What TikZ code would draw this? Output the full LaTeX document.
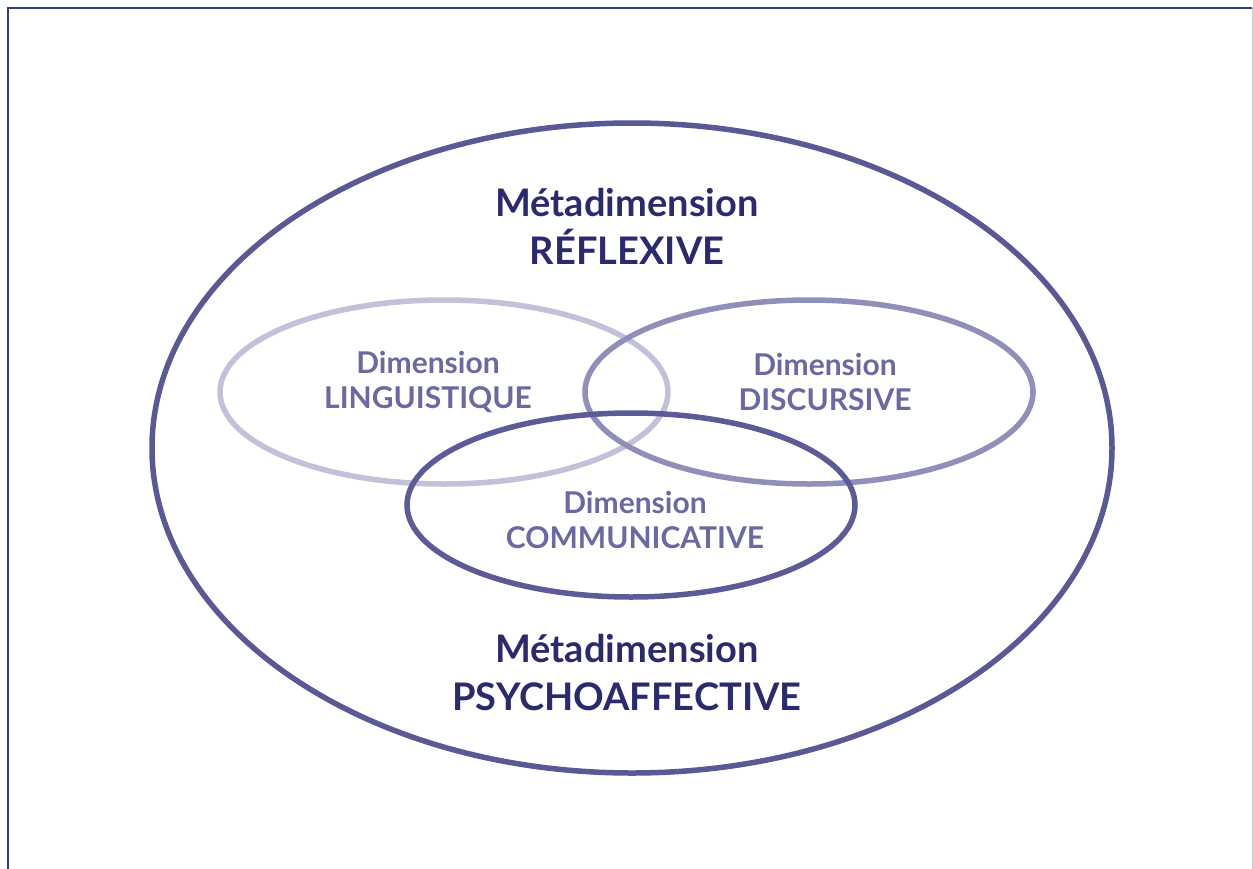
\documentclass[tikz,border=0pt]{standalone}
\usepackage{fontspec}
\setmainfont{Lato}
\definecolor{outer}{HTML}{5A5996}
\definecolor{ling}{HTML}{C2C1DA}
\definecolor{disc}{HTML}{908FBA}
\definecolor{comm}{HTML}{5C5B98}
\definecolor{meta}{HTML}{2B2A6E}
\definecolor{dimtext}{HTML}{6A69A2}
\definecolor{frame}{HTML}{34407E}
\begin{document}
\begin{tikzpicture}[x=1pt,y=-1pt,
  ring/.style={line width=5.5pt},
  metatext/.style={font=\bfseries\fontsize{38}{48}\selectfont, text=meta, align=center, inner sep=0pt},
  dimlabel/.style={font=\bfseries\fontsize{30}{35}\selectfont, text=dimtext, align=center, inner sep=0pt}]
\useasboundingbox (0,0) rectangle (1253,868);
\fill[white] (0,0) rectangle (1253,868);
% frame
\draw[frame, line width=2pt] (8,880) -- (8,8) -- (1252,8);
\draw[black!20, line width=1pt] (1252,8) -- (1252,880);
% ellipses
\draw[outer, ring] (632,448) ellipse [x radius=480, y radius=325];
\draw[ling, ring] (444,392) ellipse [x radius=224, y radius=92];
\draw[disc, ring] (809,392) ellipse [x radius=224, y radius=92];
\draw[comm, ring] (631,505) ellipse [x radius=224, y radius=92];
% texts
\node[metatext] (refl) at (627,226) {Métadimension\\RÉFLEXIVE};
\node[metatext] (psy) at (627,673) {Métadimension\\PSYCHOAFFECTIVE};
\node[dimlabel] (lin) at (428,382) {Dimension\\LINGUISTIQUE};
\node[dimlabel] (dis) at (825,382) {Dimension\\DISCURSIVE};
\node[dimlabel] (com) at (635,520) {Dimension\\COMMUNICATIVE};
\end{tikzpicture}
\end{document}
